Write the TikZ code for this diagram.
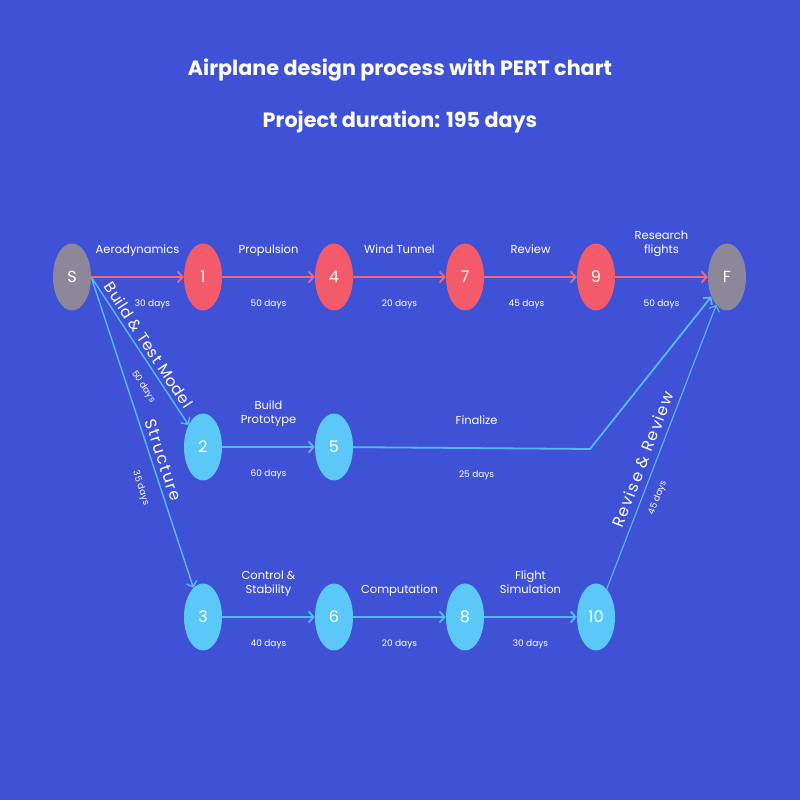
\documentclass[tikz,border=0pt]{standalone}
\usepackage{fontspec}
\setmainfont{Poppins}
\usetikzlibrary{arrows.meta,shapes.geometric}
\definecolor{bgblue}{HTML}{3F52D6}
\definecolor{critred}{HTML}{F35B6B}
\definecolor{linered}{HTML}{F2667E}
\definecolor{skyblue}{HTML}{5BC8F7}
\definecolor{lineblue}{HTML}{52BAF5}
\definecolor{endgray}{HTML}{8C8799}

\begin{document}
\begin{tikzpicture}[x=1pt, y=1pt,
        event/.style={shape=ellipse, minimum width=38pt, minimum height=67pt, inner sep=0pt, text=white, font=\fontsize{16}{19}\selectfont},
        critevent/.style={event, fill=critred},
        sideevent/.style={event, fill=skyblue},
        endevent/.style={event, fill=endgray},
        tip/.style={-{Straight Barb[length=5pt, width=11pt]}},
        crittask/.style={tip, draw=linered, line width=1.8pt},
        sidetask/.style={tip, draw=lineblue, line width=1.8pt},
        diagtask/.style={tip, draw=lineblue, line width=1.4pt},
        tasklabel/.style={text=white, inner sep=0pt, align=center, text depth=3pt, font=\fontsize{11.5}{14}\selectfont},
        slopelabel/.style={text=white, inner sep=0pt, sloped, font=\fontsize{15.5}{18}\selectfont\addfontfeatures{LetterSpace=3}},
        widelabel/.style={slopelabel, font=\fontsize{16}{18}\selectfont\addfontfeatures{LetterSpace=9}},
        daylabel/.style={text=white, inner sep=0pt, text height=6.5pt, text depth=2pt, font=\fontsize{9}{11}\selectfont}]
        	% Background and title:
        	\fill[bgblue] (0,0) rectangle (800,800);
        	\useasboundingbox (0,0) rectangle (800,800);
        	\node[text=white, font=\fontsize{20.7}{24}\selectfont\bfseries] (T1) at (400,730){Airplane design process with PERT chart};
        	\node[text=white, font=\fontsize{20.7}{24}\selectfont\bfseries] (T2) at (400,678){Project duration: 195 days};
        	% Events:
        	\node[endevent] (S) at (72,523){S};
        	\node[critevent] (N1) at (203,523){1};
        	\node[critevent] (N4) at (334,523){4};
        	\node[critevent] (N7) at (465,523){7};
        	\node[critevent] (N9) at (596,523){9};
        	\node[endevent] (F) at (727,523){F};
        	\node[sideevent] (N2) at (203,353){2};
        	\node[sideevent] (N5) at (334,353){5};
        	\node[sideevent] (N3) at (203,183){3};
        	\node[sideevent] (N6) at (334,183){6};
        	\node[sideevent] (N8) at (465,183){8};
        	\node[sideevent] (N10) at (596,183){10};
        	\coordinate (B1) at (590,351);
        	% Critical path:
        	\draw[crittask] (S) -- node[tasklabel, above=20pt]{Aerodynamics} node[daylabel, below=22pt, xshift=15pt]{30 days} (N1);
        	\draw[crittask] (N1) -- node[tasklabel, above=20pt]{Propulsion} node[daylabel, below=22pt]{50 days} (N4);
        	\draw[crittask] (N4) -- node[tasklabel, above=20pt]{Wind Tunnel} node[daylabel, below=22pt]{20 days} (N7);
        	\draw[crittask] (N7) -- node[tasklabel, above=20pt]{Review} node[daylabel, below=22pt, xshift=-4pt]{45 days} (N9);
        	\draw[crittask] (N9) -- node[tasklabel, above=20pt]{Research\\flights} node[daylabel, below=22pt]{50 days} (F);
        	% Middle path:
        	\draw[diagtask] (S.east) -- node[slopelabel, above=4pt, pos=0.5]{Build \& Test Model} node[daylabel, sloped, below=12pt, pos=0.68]{50 days} (N2);
        	\draw[sidetask] (N2) -- node[tasklabel, above=20pt]{Build\\Prototype} node[daylabel, below=22pt]{60 days} (N5);
        	\draw[sidetask] (N5) -- node[tasklabel, above=20pt, xshift=5pt]{Finalize} node[daylabel, below=22pt, xshift=5pt]{25 days} (B1) -- (F);
        	% Lower path:
        	\draw[diagtask] (S.east) -- node[widelabel, above=5pt, pos=0.6]{Structure} node[daylabel, sloped, below=14pt, pos=0.66]{35 days} (N3);
        	\draw[sidetask] (N3) -- node[tasklabel, above=20pt]{Control \&\\Stability} node[daylabel, below=22pt]{40 days} (N6);
        	\draw[sidetask] (N6) -- node[tasklabel, above=20pt]{Computation} node[daylabel, below=22pt]{20 days} (N8);
        	\draw[sidetask] (N8) -- node[tasklabel, above=20pt]{Flight\\Simulation} node[daylabel, below=22pt]{30 days} (N10);
        	\draw[diagtask, line width=1.1pt] (N10) -- node[widelabel, above=6pt, pos=0.44]{Revise \& Review} node[daylabel, sloped, below=10pt, pos=0.34]{45 days} (F);
        \end{tikzpicture}
\end{document}
